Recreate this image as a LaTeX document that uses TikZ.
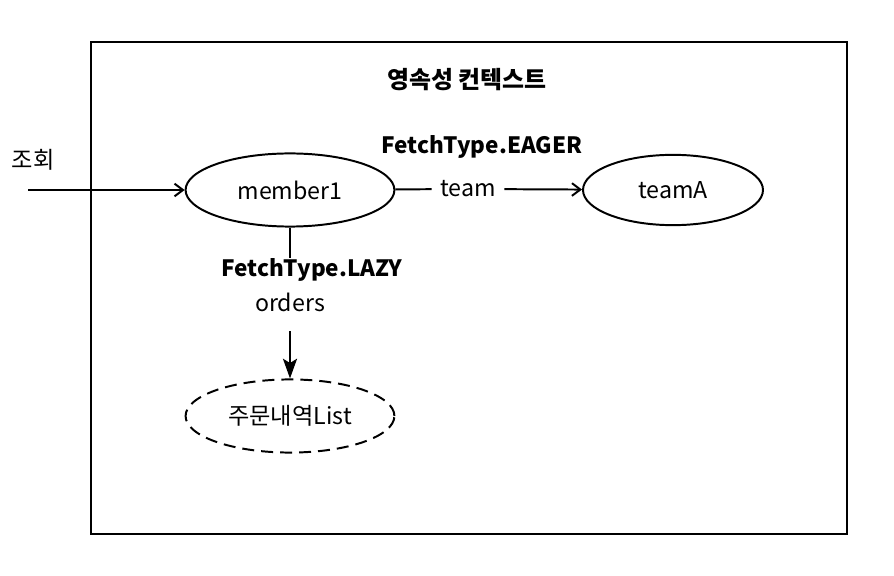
\documentclass[tikz,border=0pt]{standalone}
\usepackage{fontspec}
\setmainfont{Noto Sans CJK KR}
\usetikzlibrary{arrows.meta,shapes.geometric}
\tikzset{
	entity/.style={draw, ellipse, line width=1.4pt, minimum width=148.5pt, minimum height=52pt, font=\fontsize{16.5}{18}\selectfont},
	lbl/.style={font=\fontsize{16.5}{18}\selectfont, inner sep=6pt},
	boldlbl/.style={font=\fontsize{16}{18}\selectfont\bfseries, inner sep=1pt},
	conn/.style={line width=1.4pt},
	arr/.style={conn, -{Straight Barb[length=6pt,width=9pt,line width=1.4pt]}},
}
\begin{document}
\begin{tikzpicture}[x=0.025cm,y=-0.025cm]
	\useasboundingbox (0,0) rectangle (894,576);
	\draw[line width=1.4pt] (91,42) rectangle (847,534);
	\node[boldlbl, font=\fontsize{17}{19}\selectfont\bfseries] at (467,80) (ctx) {영속성 컨텍스트};
	\node[lbl] at (33,160) (query) {조회};
	\coordinate (start) at (28,190);
	\node[entity] at (290,190) (member1) {member1};
	\node[entity, minimum width=128pt, minimum height=50pt] at (673,190) (teamA) {teamA};
	\node[entity, dash pattern=on 8.5pt off 5pt] at (290,416) (orderlist) {주문내역List};
	\node[boldlbl] at (482,147) (eager) {FetchType.EAGER};
	\node[lbl] at (468,189) (team) {team};
	\node[boldlbl, inner sep=0pt] at (312,270) (lazy) {FetchType.LAZY};
	\node[lbl, inner sep=2pt] at (290,302) (orders) {orders};
	\draw[arr] (start) -- (member1);
	\draw[conn] (member1) -- (team);
	\draw[arr] (team) -- (teamA);
	\draw[conn] (member1.south) -- (member1.south |- lazy.north);
	\draw[arr, -{Stealth[length=14pt,width=10pt,inset=3pt]}] ([yshift=-12pt]orders.south) -- (orderlist);
\end{tikzpicture}
\end{document}
